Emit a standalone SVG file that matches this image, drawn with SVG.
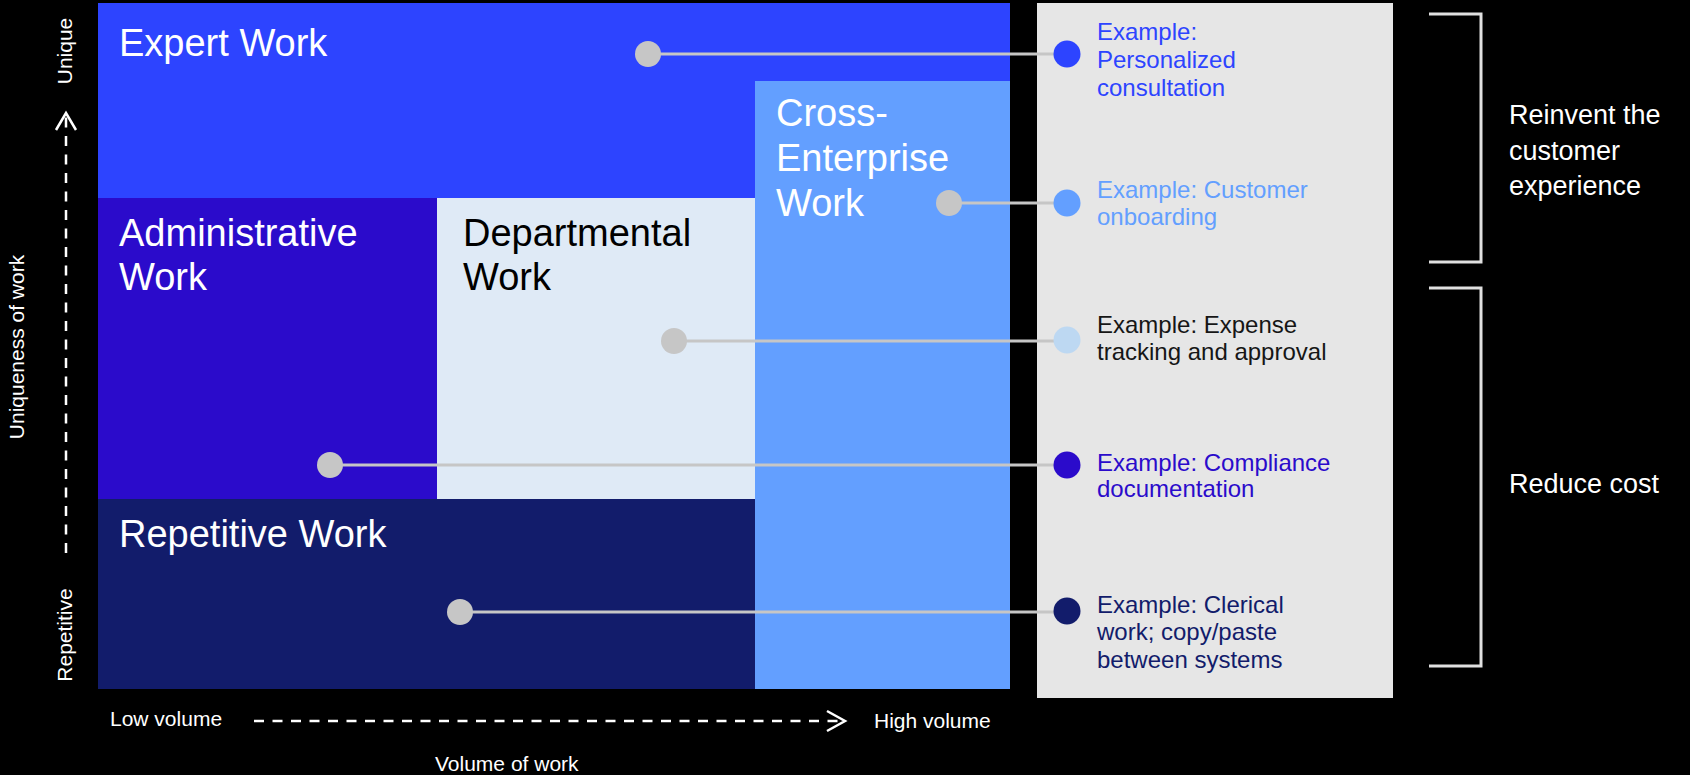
<svg xmlns="http://www.w3.org/2000/svg" width="1690" height="775" viewBox="0 0 1690 775">
<style>
text{font-family:"Liberation Sans",Arial,sans-serif}
.big{font-size:38px;fill:#ffffff}
.ax{font-size:21px;fill:#ffffff}
.ex{font-size:24px}
.br{font-size:27px;fill:#ffffff}
.conn{stroke:#C6C6C6;stroke-width:3;fill:none}
.ldot{fill:#C6C6C6}
.dash{stroke:#ffffff;stroke-width:2.5;fill:none;stroke-dasharray:10 8.5}
.head{stroke:#ffffff;stroke-width:2.5;fill:none}
.brk{stroke:#E0E0E0;stroke-width:3;fill:none}
</style>
<rect width="1690" height="775" fill="#000000"/>
<g id="expert-work">
<rect x="98" y="3" width="912" height="195" fill="#2D44FF"/>
<text class="big" x="119" y="56">Expert Work</text>
</g>
<g id="cross-enterprise-work">
<rect x="755" y="81" width="255" height="608" fill="#639FFF"/>
<text class="big" x="776" y="126">Cross-</text>
<text class="big" x="776" y="171">Enterprise</text>
<text class="big" x="776" y="216">Work</text>
</g>
<g id="administrative-work">
<rect x="98" y="198" width="339" height="301" fill="#2B0BCB"/>
<text class="big" x="119" y="246">Administrative</text>
<text class="big" x="119" y="290">Work</text>
</g>
<g id="departmental-work">
<rect x="437" y="198" width="318" height="301" fill="#DFEAF6"/>
<text class="big" x="463" y="246" style="fill:#000000">Departmental</text>
<text class="big" x="463" y="290" style="fill:#000000">Work</text>
</g>
<g id="repetitive-work">
<rect x="98" y="499" width="657" height="190" fill="#121C6B"/>
<text class="big" x="119" y="547">Repetitive Work</text>
</g>
<g id="examples-panel">
<rect x="1037" y="3" width="356" height="695" fill="#E6E6E6"/>
</g>
<g id="connectors">
<line class="conn" x1="648" y1="54" x2="1067" y2="54"/>
<line class="conn" x1="949" y1="203" x2="1067" y2="203"/>
<line class="conn" x1="674" y1="341" x2="1067" y2="341"/>
<line class="conn" x1="330" y1="465" x2="1067" y2="465"/>
<line class="conn" x1="460" y1="612" x2="1067" y2="612"/>
<circle class="ldot" cx="648" cy="54" r="13"/>
<circle class="ldot" cx="949" cy="203" r="13"/>
<circle class="ldot" cx="674" cy="341" r="13"/>
<circle class="ldot" cx="330" cy="465" r="13"/>
<circle class="ldot" cx="460" cy="612" r="13"/>
</g>
<g id="example-personalized">
<circle cx="1067" cy="54" r="13.5" fill="#2D44FF"/>
<text class="ex" fill="#2D44FF"><tspan x="1097" y="40">Example:</tspan><tspan x="1097" y="68">Personalized</tspan><tspan x="1097" y="96">consultation</tspan></text>
</g>
<g id="example-onboarding">
<circle cx="1067" cy="203" r="13.5" fill="#639FFF"/>
<text class="ex" fill="#639FFF"><tspan x="1097" y="198">Example: Customer</tspan><tspan x="1097" y="225">onboarding</tspan></text>
</g>
<g id="example-expense">
<circle cx="1067" cy="340" r="13.5" fill="#BDD8F2"/>
<text class="ex" fill="#161616"><tspan x="1097" y="333">Example: Expense</tspan><tspan x="1097" y="360">tracking and approval</tspan></text>
</g>
<g id="example-compliance">
<circle cx="1067" cy="465" r="13.5" fill="#2B0BCB"/>
<text class="ex" fill="#2B0BCB"><tspan x="1097" y="471">Example: Compliance</tspan><tspan x="1097" y="497">documentation</tspan></text>
</g>
<g id="example-clerical">
<circle cx="1067" cy="611" r="13.5" fill="#121C6B"/>
<text class="ex" fill="#121C6B"><tspan x="1097" y="613">Example: Clerical</tspan><tspan x="1097" y="640">work; copy/paste</tspan><tspan x="1097" y="668">between systems</tspan></text>
</g>
<g id="bracket-reinvent">
<polyline class="brk" points="1429,14 1481,14 1481,262 1429,262"/>
<text class="br"><tspan x="1509" y="124">Reinvent the</tspan><tspan x="1509" y="160">customer</tspan><tspan x="1509" y="195">experience</tspan></text>
</g>
<g id="bracket-reduce">
<polyline class="brk" points="1429,288 1481,288 1481,666 1429,666"/>
<text class="br" x="1509" y="493">Reduce cost</text>
</g>
<g id="axis-y">
<line class="dash" x1="66" y1="553" x2="66" y2="115"/>
<polyline class="head" points="56,130 66,113 76,130"/>
<text class="ax" text-anchor="middle" transform="translate(72,51) rotate(-90)">Unique</text>
<text class="ax" text-anchor="middle" transform="translate(72,635) rotate(-90)">Repetitive</text>
<text class="ax" text-anchor="middle" transform="translate(24,347) rotate(-90)">Uniqueness of work</text>
</g>
<g id="axis-x">
<line class="dash" x1="254" y1="721" x2="843" y2="721"/>
<polyline class="head" points="827,711 845,721 827,731"/>
<text class="ax" x="110" y="726">Low volume</text>
<text class="ax" x="874" y="728">High volume</text>
<text class="ax" x="435" y="771">Volume of work</text>
</g>
</svg>
